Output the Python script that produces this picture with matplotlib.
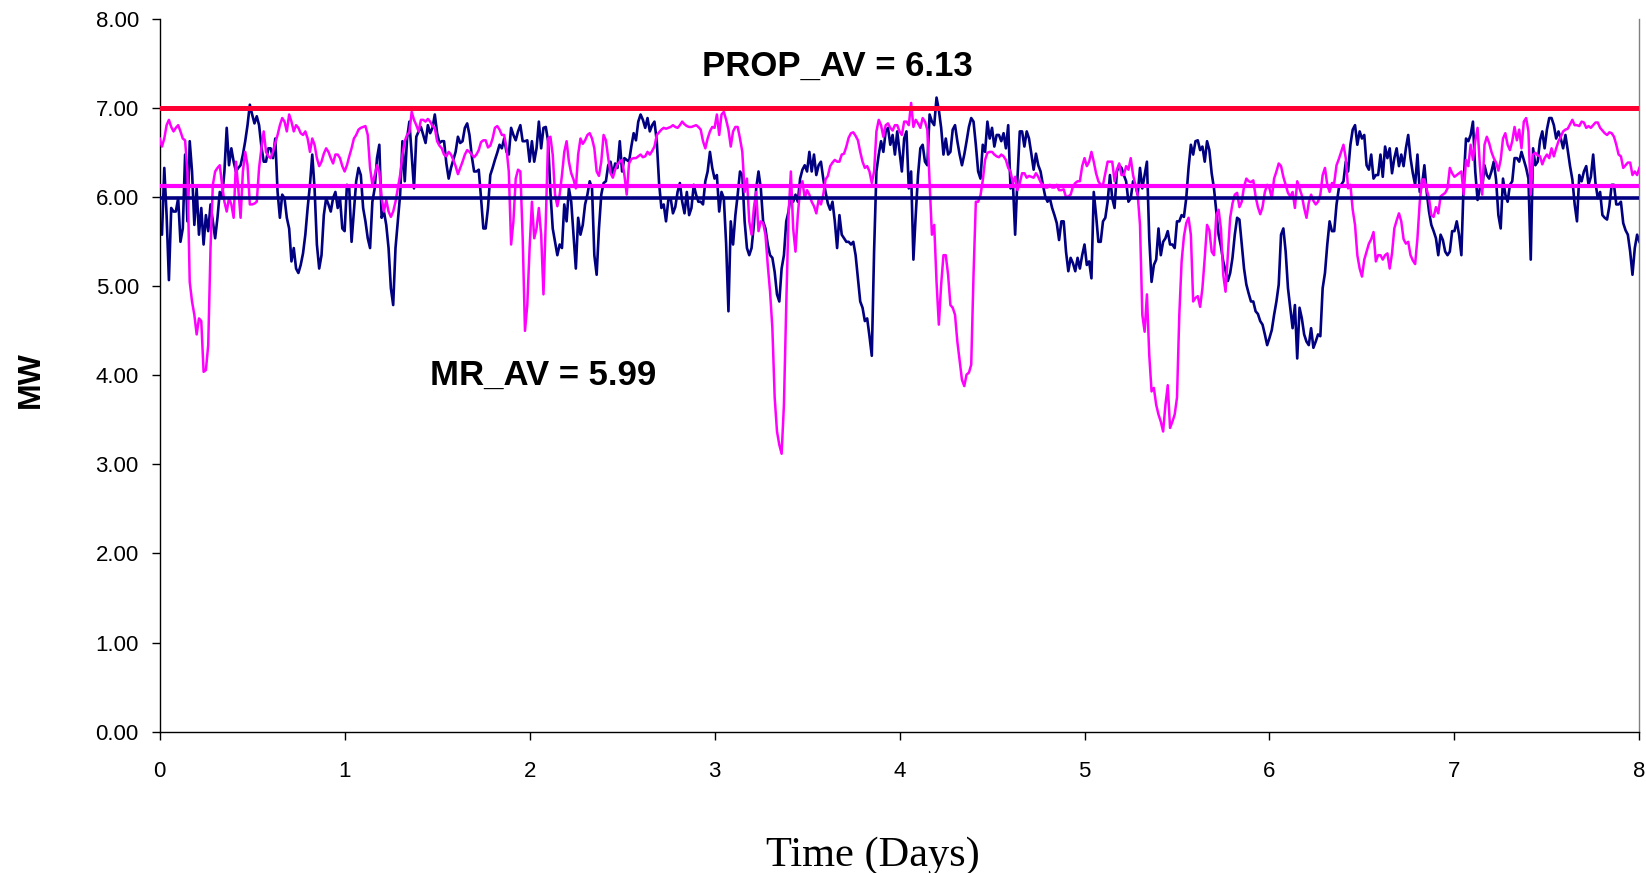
import numpy as np
import matplotlib
matplotlib.use("Agg")
import matplotlib.pyplot as plt

# ---- data (MW) over 8 days, both series read every 1/80 day ----
per_day = 80

prop = [
    # day 0
    6.66, 6.57, 6.66, 6.81, 6.87, 6.79, 6.74, 6.78, 6.81, 6.74,
    6.66, 6.64, 6.29, 5.05, 4.83, 4.68, 4.46, 4.64, 4.61, 4.04,
    4.06, 4.34, 5.43, 6.14, 6.29, 6.33, 6.36, 6.14, 5.95, 5.84,
    5.99, 5.92, 5.77, 6.40, 6.10, 5.77, 6.29, 6.51, 6.36, 5.92,
    5.92, 5.93, 5.95, 6.33, 6.55, 6.74, 6.51, 6.46, 6.44, 6.51,
    6.61, 6.70, 6.81, 6.89, 6.85, 6.74, 6.93, 6.85, 6.74, 6.81,
    6.78, 6.72, 6.70, 6.74, 6.66, 6.51, 6.66, 6.59, 6.44, 6.35,
    6.40, 6.49, 6.55, 6.51, 6.44, 6.38, 6.48, 6.48, 6.44, 6.35,
    # day 1
    6.29, 6.36, 6.46, 6.55, 6.66, 6.70, 6.76, 6.78, 6.79, 6.80,
    6.70, 6.33, 6.14, 6.25, 6.36, 6.29, 5.99, 5.84, 5.97, 5.84,
    5.78, 5.84, 5.95, 6.10, 6.25, 6.48, 6.63, 6.70, 6.73, 6.96,
    6.87, 6.81, 6.74, 6.87, 6.87, 6.85, 6.88, 6.85, 6.80, 6.78,
    6.63, 6.58, 6.55, 6.48, 6.46, 6.51, 6.48, 6.42, 6.35, 6.26,
    6.33, 6.40, 6.48, 6.53, 6.51, 6.48, 6.45, 6.48, 6.53, 6.62,
    6.64, 6.64, 6.56, 6.58, 6.66, 6.78, 6.80, 6.76, 6.70, 6.70,
    6.55, 6.29, 5.47, 5.73, 6.21, 6.31, 6.29, 5.55, 4.50, 4.79,
    # day 2
    5.43, 5.95, 5.54, 5.65, 5.88, 5.58, 4.91, 5.73, 6.66, 6.68,
    6.48, 6.03, 5.90, 6.03, 6.25, 6.51, 6.63, 6.40, 6.27, 6.20,
    6.10, 6.48, 6.66, 6.60, 6.64, 6.70, 6.72, 6.66, 6.55, 6.29,
    6.24, 6.40, 6.70, 6.64, 6.44, 6.27, 6.22, 6.31, 6.37, 6.40,
    6.42, 6.25, 6.03, 6.38, 6.43, 6.44, 6.44, 6.46, 6.48, 6.45,
    6.46, 6.51, 6.48, 6.52, 6.57, 6.70, 6.73, 6.76, 6.78, 6.77,
    6.78, 6.79, 6.81, 6.79, 6.78, 6.81, 6.85, 6.82, 6.80, 6.79,
    6.79, 6.80, 6.81, 6.79, 6.76, 6.63, 6.55, 6.66, 6.74, 6.79,
    # day 3
    6.78, 6.93, 6.70, 6.93, 6.96, 6.87, 6.76, 6.57, 6.74, 6.79,
    6.79, 6.66, 6.51, 6.06, 6.21, 5.73, 5.58, 5.88, 6.06, 5.62,
    5.73, 5.71, 5.58, 5.24, 4.94, 4.53, 3.75, 3.37, 3.22, 3.12,
    3.67, 4.79, 5.80, 6.29, 5.65, 5.39, 5.80, 6.10, 6.18, 5.99,
    6.08, 6.03, 5.95, 5.90, 5.82, 5.97, 5.92, 6.03, 6.20, 6.24,
    6.35, 6.39, 6.42, 6.40, 6.40, 6.48, 6.49, 6.57, 6.67, 6.72,
    6.73, 6.69, 6.64, 6.51, 6.40, 6.33, 6.35, 6.29, 6.16, 6.29,
    6.74, 6.87, 6.81, 6.68, 6.81, 6.83, 6.78, 6.75, 6.81, 6.81,
    # day 4
    6.74, 6.70, 6.85, 6.85, 6.81, 7.06, 6.79, 6.87, 6.83, 6.78,
    6.89, 6.85, 6.76, 6.18, 5.58, 5.69, 5.05, 4.57, 5.02, 5.35,
    5.35, 5.13, 4.79, 4.76, 4.68, 4.38, 4.16, 3.95, 3.88, 4.01,
    4.03, 4.12, 5.13, 5.95, 5.95, 6.02, 6.19, 6.42, 6.50, 6.51,
    6.51, 6.48, 6.46, 6.45, 6.48, 6.46, 6.42, 6.33, 6.29, 6.16,
    6.23, 6.08, 6.16, 6.27, 6.27, 6.22, 6.24, 6.23, 6.22, 6.27,
    6.23, 6.17, 6.14, 6.11, 6.11, 6.14, 6.11, 6.11, 6.14, 6.08,
    6.08, 6.09, 6.00, 6.01, 6.03, 6.12, 6.16, 6.18, 6.18, 6.35,
    # day 5
    6.44, 6.35, 6.40, 6.51, 6.40, 6.27, 6.18, 6.14, 6.14, 6.27,
    6.40, 6.40, 6.40, 6.18, 6.31, 6.38, 6.25, 6.25, 6.35, 6.31,
    6.44, 6.25, 6.14, 6.03, 5.69, 4.68, 4.49, 4.91, 4.23, 3.82,
    3.86, 3.67, 3.56, 3.48, 3.37, 3.67, 3.89, 3.41, 3.48, 3.56,
    3.75, 4.68, 5.28, 5.56, 5.71, 5.77, 5.58, 4.83, 4.87, 4.89,
    4.77, 4.98, 5.32, 5.69, 5.63, 5.39, 5.35, 5.80, 5.86, 5.65,
    5.13, 4.94, 5.35, 5.77, 5.93, 6.03, 6.05, 5.89, 5.95, 6.12,
    6.21, 6.18, 6.17, 6.19, 6.01, 5.89, 5.81, 5.89, 6.06, 6.14,
    # day 6
    6.10, 5.99, 6.21, 6.29, 6.38, 6.35, 6.23, 6.14, 6.05, 6.01,
    6.06, 5.88, 6.18, 6.10, 6.02, 5.88, 5.77, 5.94, 6.03, 5.96,
    5.92, 5.95, 6.03, 6.25, 6.33, 6.14, 6.06, 6.16, 6.16, 6.36,
    6.43, 6.51, 6.59, 6.44, 6.10, 6.14, 5.86, 5.69, 5.35, 5.20,
    5.11, 5.30, 5.39, 5.48, 5.53, 5.61, 5.28, 5.35, 5.35, 5.30,
    5.35, 5.37, 5.20, 5.37, 5.65, 5.74, 5.82, 5.73, 5.53, 5.48,
    5.50, 5.35, 5.29, 5.25, 5.54, 5.95, 6.20, 6.20, 6.09, 5.99,
    5.80, 5.78, 5.89, 5.82, 6.01, 6.03, 6.05, 6.10, 6.33, 6.27,
    # day 7
    6.23, 6.25, 6.27, 6.29, 6.03, 6.42, 6.35, 6.59, 6.42, 6.63,
    6.78, 6.36, 6.03, 6.59, 6.68, 6.61, 6.51, 6.44, 6.39, 6.30,
    6.42, 6.66, 6.72, 6.59, 6.53, 6.63, 6.79, 6.64, 6.76, 6.55,
    6.85, 6.89, 6.74, 6.03, 6.48, 6.50, 6.47, 6.46, 6.37, 6.44,
    6.48, 6.44, 6.55, 6.46, 6.55, 6.63, 6.68, 6.74, 6.76, 6.77,
    6.82, 6.87, 6.81, 6.81, 6.80, 6.85, 6.84, 6.78, 6.80, 6.78,
    6.81, 6.84, 6.84, 6.78, 6.75, 6.72, 6.70, 6.73, 6.72, 6.68,
    6.59, 6.48, 6.46, 6.33, 6.36, 6.39, 6.39, 6.25, 6.29, 6.25,
    6.33,
]

mr = [
    # day 0
    5.69, 5.58, 6.33, 5.80, 5.07, 5.88, 5.84, 5.84, 5.99, 5.50,
    5.65, 6.48, 5.73, 6.63, 6.29, 5.69, 6.10, 5.58, 5.88, 5.47,
    5.80, 5.62, 5.92, 5.73, 5.54, 5.77, 6.06, 5.99, 6.29, 6.78,
    6.36, 6.55, 6.40, 6.29, 6.33, 6.36, 6.48, 6.63, 6.81, 7.04,
    6.93, 6.83, 6.91, 6.81, 6.57, 6.40, 6.40, 6.55, 6.55, 6.44,
    6.66, 6.06, 5.77, 6.03, 5.99, 5.77, 5.65, 5.28, 5.43, 5.20,
    5.15, 5.24, 5.37, 5.58, 5.88, 6.14, 6.48, 6.10, 5.47, 5.20,
    5.35, 5.80, 5.99, 5.92, 5.84, 5.99, 6.06, 5.88, 5.99, 5.65,
    # day 1
    5.62, 6.14, 6.10, 5.50, 5.84, 6.18, 6.33, 6.25, 5.88, 5.73,
    5.54, 5.43, 5.95, 6.10, 6.44, 6.59, 5.77, 5.84, 5.69, 5.43,
    4.98, 4.79, 5.43, 5.73, 6.03, 6.63, 6.18, 6.66, 6.85, 6.48,
    6.10, 6.68, 6.74, 6.79, 6.70, 6.61, 6.81, 6.72, 6.78, 6.93,
    6.72, 6.61, 6.63, 6.63, 6.38, 6.21, 6.33, 6.42, 6.51, 6.68,
    6.61, 6.63, 6.78, 6.83, 6.70, 6.46, 6.29, 6.29, 6.31, 5.99,
    5.65, 5.65, 5.88, 6.25, 6.33, 6.42, 6.50, 6.59, 6.55, 6.66,
    6.51, 6.48, 6.78, 6.70, 6.64, 6.74, 6.81, 6.63, 6.63, 6.64,
    # day 2
    6.40, 6.63, 6.40, 6.55, 6.85, 6.55, 6.78, 6.79, 6.63, 6.06,
    5.65, 5.50, 5.35, 5.47, 5.43, 5.92, 5.73, 6.10, 5.95, 5.58,
    5.20, 5.77, 5.58, 5.69, 5.92, 6.03, 6.18, 6.10, 5.35, 5.13,
    5.65, 6.03, 6.16, 6.18, 6.36, 6.40, 6.25, 6.38, 6.33, 6.63,
    6.29, 6.44, 6.42, 6.40, 6.57, 6.72, 6.64, 6.85, 6.93, 6.87,
    6.78, 6.89, 6.74, 6.81, 6.85, 6.63, 6.16, 5.88, 5.92, 5.73,
    5.97, 5.99, 5.82, 5.89, 6.06, 6.16, 5.95, 5.82, 6.06, 5.80,
    5.88, 6.14, 6.03, 5.95, 5.95, 5.92, 6.18, 6.29, 6.51, 6.33,
    # day 3
    6.21, 6.25, 5.84, 6.06, 5.99, 5.48, 4.72, 5.73, 5.47, 5.80,
    6.03, 6.29, 6.25, 5.73, 5.43, 5.35, 5.43, 5.69, 6.10, 6.29,
    6.10, 5.73, 5.65, 5.47, 5.35, 5.32, 5.16, 4.91, 4.83, 5.20,
    5.35, 5.73, 5.84, 6.06, 5.95, 6.03, 5.95, 6.21, 6.31, 6.36,
    6.29, 6.51, 6.29, 6.48, 6.25, 6.36, 6.40, 6.21, 6.06, 5.93,
    5.86, 5.95, 5.73, 5.43, 5.80, 5.58, 5.54, 5.50, 5.50, 5.47,
    5.50, 5.35, 5.09, 4.83, 4.76, 4.61, 4.64, 4.44, 4.22, 5.40,
    6.29, 6.48, 6.63, 6.51, 6.74, 6.78, 6.59, 6.70, 6.48, 6.74,
    # day 4
    6.51, 6.29, 6.66, 6.74, 6.10, 6.29, 5.30, 5.80, 6.25, 6.55,
    6.59, 6.40, 6.36, 6.93, 6.85, 6.81, 7.12, 6.98, 6.78, 6.48,
    6.66, 6.48, 6.51, 6.76, 6.81, 6.63, 6.48, 6.36, 6.48, 6.63,
    6.79, 6.89, 6.85, 6.59, 6.29, 6.21, 6.59, 6.51, 6.85, 6.66,
    6.78, 6.57, 6.70, 6.70, 6.63, 6.72, 6.55, 6.81, 6.10, 6.18,
    5.58, 6.21, 6.74, 6.74, 6.57, 6.74, 6.66, 6.49, 6.31, 6.49,
    6.36, 6.29, 6.14, 6.01, 5.95, 5.99, 5.88, 5.80, 5.71, 5.52,
    5.73, 5.73, 5.39, 5.17, 5.32, 5.26, 5.17, 5.32, 5.20, 5.35,
    # day 5
    5.47, 5.24, 5.28, 5.09, 6.06, 5.80, 5.50, 5.50, 5.73, 5.77,
    5.95, 6.25, 5.99, 5.88, 6.29, 6.36, 6.33, 6.25, 6.18, 5.95,
    5.99, 6.18, 6.14, 6.03, 6.33, 6.10, 6.25, 6.40, 5.54, 5.05,
    5.24, 5.30, 5.65, 5.35, 5.50, 5.54, 5.62, 5.47, 5.47, 5.43,
    5.73, 5.73, 5.80, 5.78, 5.99, 6.33, 6.59, 6.48, 6.63, 6.64,
    6.53, 6.57, 6.40, 6.63, 6.53, 6.27, 6.10, 5.84, 5.58, 5.45,
    5.28, 5.17, 5.06, 5.15, 5.32, 5.58, 5.77, 5.75, 5.47, 5.20,
    5.02, 4.92, 4.83, 4.83, 4.72, 4.69, 4.61, 4.57, 4.46, 4.34,
    # day 6
    4.42, 4.51, 4.68, 4.83, 5.02, 5.58, 5.65, 5.39, 4.98, 4.76,
    4.53, 4.79, 4.19, 4.76, 4.64, 4.46, 4.38, 4.34, 4.53, 4.31,
    4.38, 4.46, 4.44, 4.98, 5.15, 5.47, 5.73, 5.62, 5.62, 5.92,
    6.10, 6.14, 6.18, 6.40, 6.29, 6.59, 6.76, 6.81, 6.59, 6.74,
    6.66, 6.70, 6.36, 6.31, 6.48, 6.21, 6.25, 6.25, 6.48, 6.23,
    6.57, 6.44, 6.55, 6.27, 6.44, 6.55, 6.35, 6.48, 6.35, 6.55,
    6.70, 6.44, 6.27, 6.14, 6.48, 6.06, 6.14, 6.36, 6.06, 5.84,
    5.69, 5.62, 5.54, 5.35, 5.58, 5.52, 5.39, 5.35, 5.39, 5.62,
    # day 7
    5.62, 5.73, 5.58, 5.35, 6.18, 6.66, 6.63, 6.70, 6.85, 6.29,
    5.97, 6.10, 6.10, 6.36, 6.25, 6.21, 6.29, 6.40, 6.20, 5.80,
    5.65, 6.21, 6.03, 5.95, 6.14, 6.18, 6.44, 6.44, 6.40, 6.51,
    6.42, 6.33, 6.21, 5.30, 6.55, 6.36, 6.40, 6.64, 6.74, 6.55,
    6.76, 6.89, 6.89, 6.81, 6.66, 6.74, 6.66, 6.55, 6.70, 6.53,
    6.35, 6.20, 5.92, 5.73, 6.25, 6.18, 6.29, 6.35, 6.14, 6.23,
    6.48, 6.16, 5.99, 6.06, 5.80, 5.77, 5.75, 5.90, 6.14, 6.14,
    5.92, 5.92, 5.95, 5.71, 5.63, 5.58, 5.39, 5.13, 5.43, 5.58,
    5.50,
]

limit_value = 7.00
prop_av = 6.13
mr_av = 5.99
x_ticks = [0, 1, 2, 3, 4, 5, 6, 7, 8]
y_ticks = [0, 1, 2, 3, 4, 5, 6, 7, 8]

t_prop = np.arange(len(prop)) / per_day
t_mr = np.arange(len(mr)) / per_day

# ---- figure ----
fig = plt.figure(figsize=(16.46, 8.73), dpi=100)
ax = fig.add_axes([0.097, 0.162, 0.899, 0.816])

NAVY = "#000080"
MAG = "#ff00ff"
RED = "#ff0033"

ax.plot(t_mr, mr, color=NAVY, lw=1.9, zorder=2)
ax.plot(t_prop, prop, color=MAG, lw=1.8, zorder=3)

ax.axhline(limit_value, color=RED, lw=3.6, zorder=4)
ax.axhline(prop_av, color=MAG, lw=3.0, zorder=4)
ax.axhline(mr_av, color=NAVY, lw=2.6, zorder=4)

ax.set_xlim(0, 8)
ax.set_ylim(0, 8)
ax.set_xticks(x_ticks)
ax.set_xticklabels([str(v) for v in x_ticks])
ax.set_yticks(y_ticks)
ax.set_yticklabels([f"{v:.2f}" for v in y_ticks])

ax.spines["top"].set_visible(False)
ax.spines["right"].set_color("#808080")
for s in ["left", "bottom", "right"]:
    ax.spines[s].set_linewidth(1.0)

ax.tick_params(axis="y", direction="out", length=6, width=1, pad=9,
               labelsize=16, labelfontfamily="Liberation Sans")
ax.tick_params(axis="x", direction="out", length=6, width=1, pad=15,
               labelsize=16, labelfontfamily="Liberation Sans")

ax.text(2.93, 7.47, "PROP_AV = 6.13", fontsize=25, fontweight="bold",
        family="Liberation Sans", ha="left", va="center")
ax.text(1.46, 4.00, "MR_AV = 5.99", fontsize=25, fontweight="bold",
        family="Liberation Sans", ha="left", va="center")

fig.text(0.019, 0.565, "MW", rotation=90, fontsize=23, fontweight="bold",
         family="Liberation Sans", ha="center", va="center")
fig.text(0.530, 0.020, "Time (Days)", fontsize=30.5,
         family="Liberation Serif", ha="center", va="center")

fig.savefig("out.png", dpi=100)
